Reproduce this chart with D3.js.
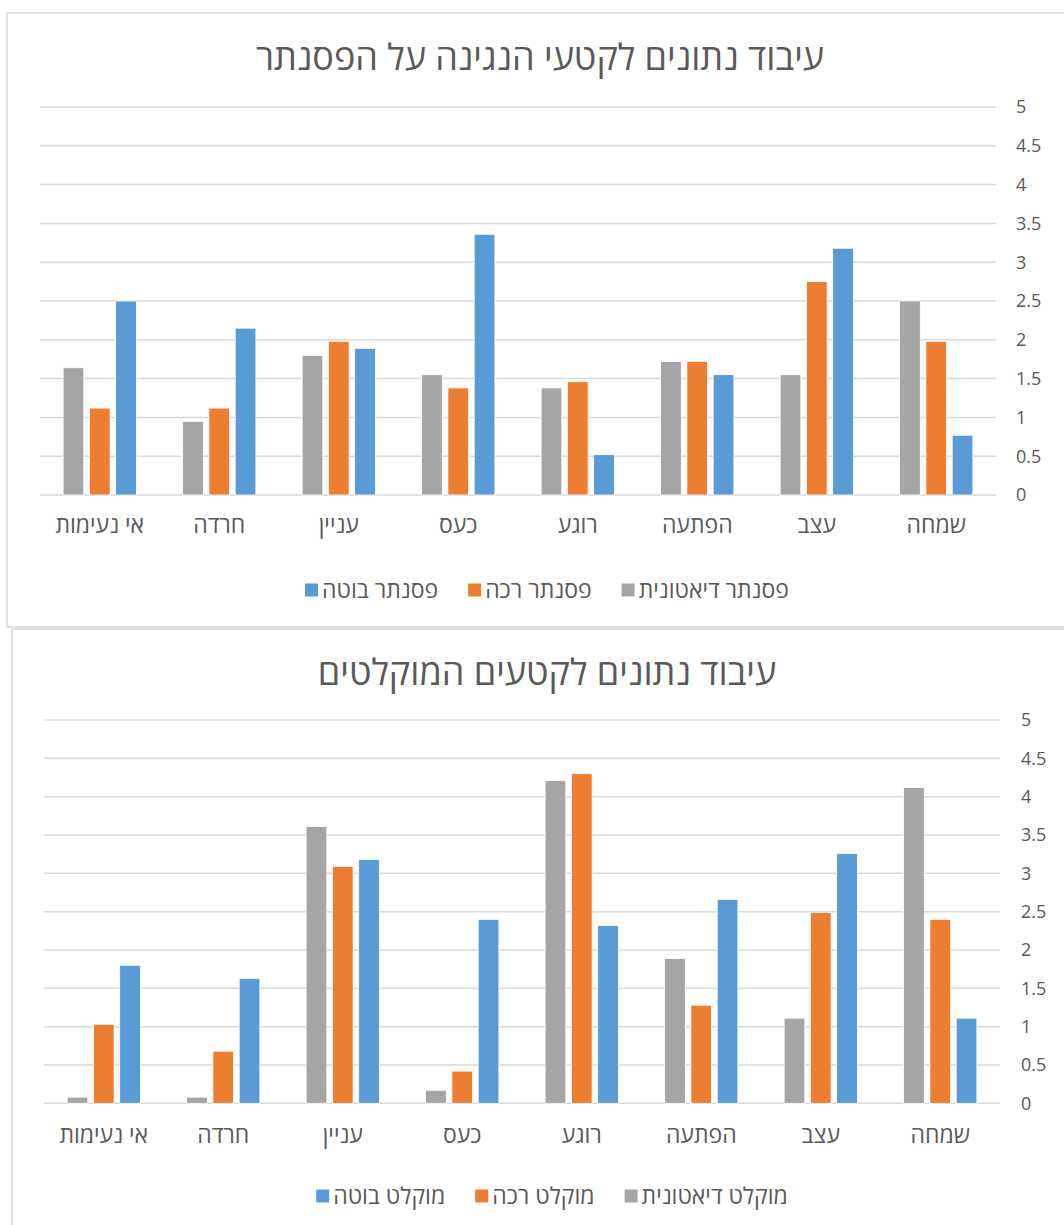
<!DOCTYPE html>
<html>
<head>
<meta charset="utf-8">
<title>עיבוד נתונים</title>
<script src="https://cdnjs.cloudflare.com/ajax/libs/d3/7.8.5/d3.min.js"></script>
<style>
  html, body { margin: 0; padding: 0; background: #fff; }
  svg text { font-family: "Open Sans", "Liberation Sans", "DejaVu Sans", sans-serif; fill: #595959; }
</style>
</head>
<body>
<svg id="chart" width="1064" height="1225"></svg>
<script>
// categories, in data order (first one is drawn on the right)
var categories = ['שמחה', 'עצב', 'הפתעה', 'רוגע', 'כעס', 'עניין', 'חרדה', 'אי נעימות'];
var yTicks = [0, 0.5, 1, 1.5, 2, 2.5, 3, 3.5, 4, 4.5, 5];
var colors = ['#A5A5A5', '#ED7D31', '#5B9BD5'];

// piano
var pianoTitle = 'עיבוד נתונים לקטעי הנגינה על הפסנתר';
var pianoSeries = ['פסנתר דיאטונית', 'פסנתר רכה', 'פסנתר בוטה'];
var pianoDiatonic = [2.5, 1.55, 1.72, 1.38, 1.55, 1.8, 0.95, 1.64];
var pianoSoft     = [1.98, 2.75, 1.72, 1.46, 1.38, 1.98, 1.12, 1.12];
var pianoHarsh    = [0.77, 3.18, 1.55, 0.52, 3.36, 1.89, 2.15, 2.5];

// recorded
var recTitle = 'עיבוד נתונים לקטעים המוקלטים';
var recSeries = ['מוקלט דיאטונית', 'מוקלט רכה', 'מוקלט בוטה'];
var recDiatonic = [4.12, 1.11, 1.89, 4.21, 0.17, 3.61, 0.08, 0.08];
var recSoft     = [2.4, 2.49, 1.28, 4.3, 0.42, 3.09, 0.68, 1.03];
var recHarsh    = [1.11, 3.26, 2.66, 2.32, 2.4, 3.18, 1.63, 1.8];

var svg = d3.select('#chart');

// hebrew glyphs in Open Sans are smaller than the original's, so bump them up
var hebSize = '23px', titleSize = '36px';

function drawChart(cfg) {
  var g = svg.append('g');

  // frame
  g.append('rect')
    .attr('x', cfg.box[0]).attr('y', cfg.box[1])
    .attr('width', cfg.box[2]).attr('height', cfg.box[3])
    .attr('fill', '#fff').attr('stroke', '#D9D9D9').attr('stroke-width', 1.5);

  g.append('text')
    .attr('x', cfg.titleX).attr('y', cfg.titleY)
    .attr('text-anchor', 'middle').attr('dy', '0.35em')
    .style('font-size', titleSize)
    .text(cfg.title);

  var x = d3.scaleBand()
    .domain(categories)
    .range([cfg.right, cfg.left])
    .paddingInner(0.387).paddingOuter(0.1935);

  var xs = d3.scaleBand()
    .domain(cfg.series)
    .range([0, x.bandwidth()])
    .paddingInner(0.213);

  var y = d3.scaleLinear().domain([0, 5]).range([cfg.bottom, cfg.top]);

  // gridlines
  g.selectAll('.grid').data(yTicks).enter().append('line')
    .attr('x1', cfg.left).attr('x2', cfg.right)
    .attr('y1', d => y(d)).attr('y2', d => y(d))
    .attr('stroke', '#D9D9D9').attr('stroke-width', 1.5);

  // value labels on the right
  g.selectAll('.ytick').data(yTicks).enter().append('text')
    .attr('x', cfg.labelX).attr('y', d => y(d))
    .attr('dy', '0.35em')
    .style('font-size', '18px')
    .text(d => d);

  var rows = categories.map(function(c, i) {
    return { cat: c, vals: cfg.values.map(v => v[i]) };
  });

  var grp = g.selectAll('.grp').data(rows).enter().append('g')
    .attr('transform', d => 'translate(' + x(d.cat) + ',0)');

  grp.selectAll('rect').data(d => d.vals).enter().append('rect')
    .attr('x', (d, i) => xs(cfg.series[i]))
    .attr('width', xs.bandwidth())
    .attr('y', d => y(d))
    .attr('height', d => cfg.bottom - y(d))
    .attr('fill', (d, i) => colors[i])
    .attr('stroke', '#fff').attr('stroke-width', 0.8);

  // category labels
  g.selectAll('.cat').data(categories).enter().append('text')
    .attr('x', d => x(d) + x.bandwidth() / 2)
    .attr('y', cfg.catY)
    .attr('text-anchor', 'middle').attr('dy', '0.35em')
    .style('font-size', hebSize)
    .text(d => d);

  // legend, laid out right to left and centred
  var leg = g.append('g');
  var items = cfg.series.map(function(s, i) {
    var item = leg.append('g');
    item.append('rect').attr('width', 13).attr('height', 13)
      .attr('y', -6.5).attr('fill', colors[i]);
    var t = item.append('text').attr('x', 17).attr('dy', '0.35em')
      .style('font-size', hebSize).text(s);
    return { node: item, w: 17 + t.node().getComputedTextLength() };
  });
  var gap = 30;
  var total = d3.sum(items, d => d.w) + gap * (items.length - 1);
  var cx = cfg.legendX + total / 2;
  items.forEach(function(it) {
    cx -= it.w;
    it.node.attr('transform', 'translate(' + cx + ',' + cfg.legendY + ')');
    cx -= gap;
  });
}

drawChart({
  box: [7, 13, 1080, 614],
  title: pianoTitle, titleX: 540, titleY: 57,
  series: pianoSeries,
  values: [pianoDiatonic, pianoSoft, pianoHarsh],
  left: 40, right: 996, top: 107, bottom: 495,
  labelX: 1016, catY: 525,
  legendX: 547, legendY: 590
});

drawChart({
  box: [12, 629, 1080, 620],
  title: recTitle, titleX: 547, titleY: 672,
  series: recSeries,
  values: [recDiatonic, recSoft, recHarsh],
  left: 44, right: 1000, top: 720, bottom: 1103.3,
  labelX: 1021, catY: 1135,
  legendX: 552, legendY: 1196
});
</script>
</body>
</html>
